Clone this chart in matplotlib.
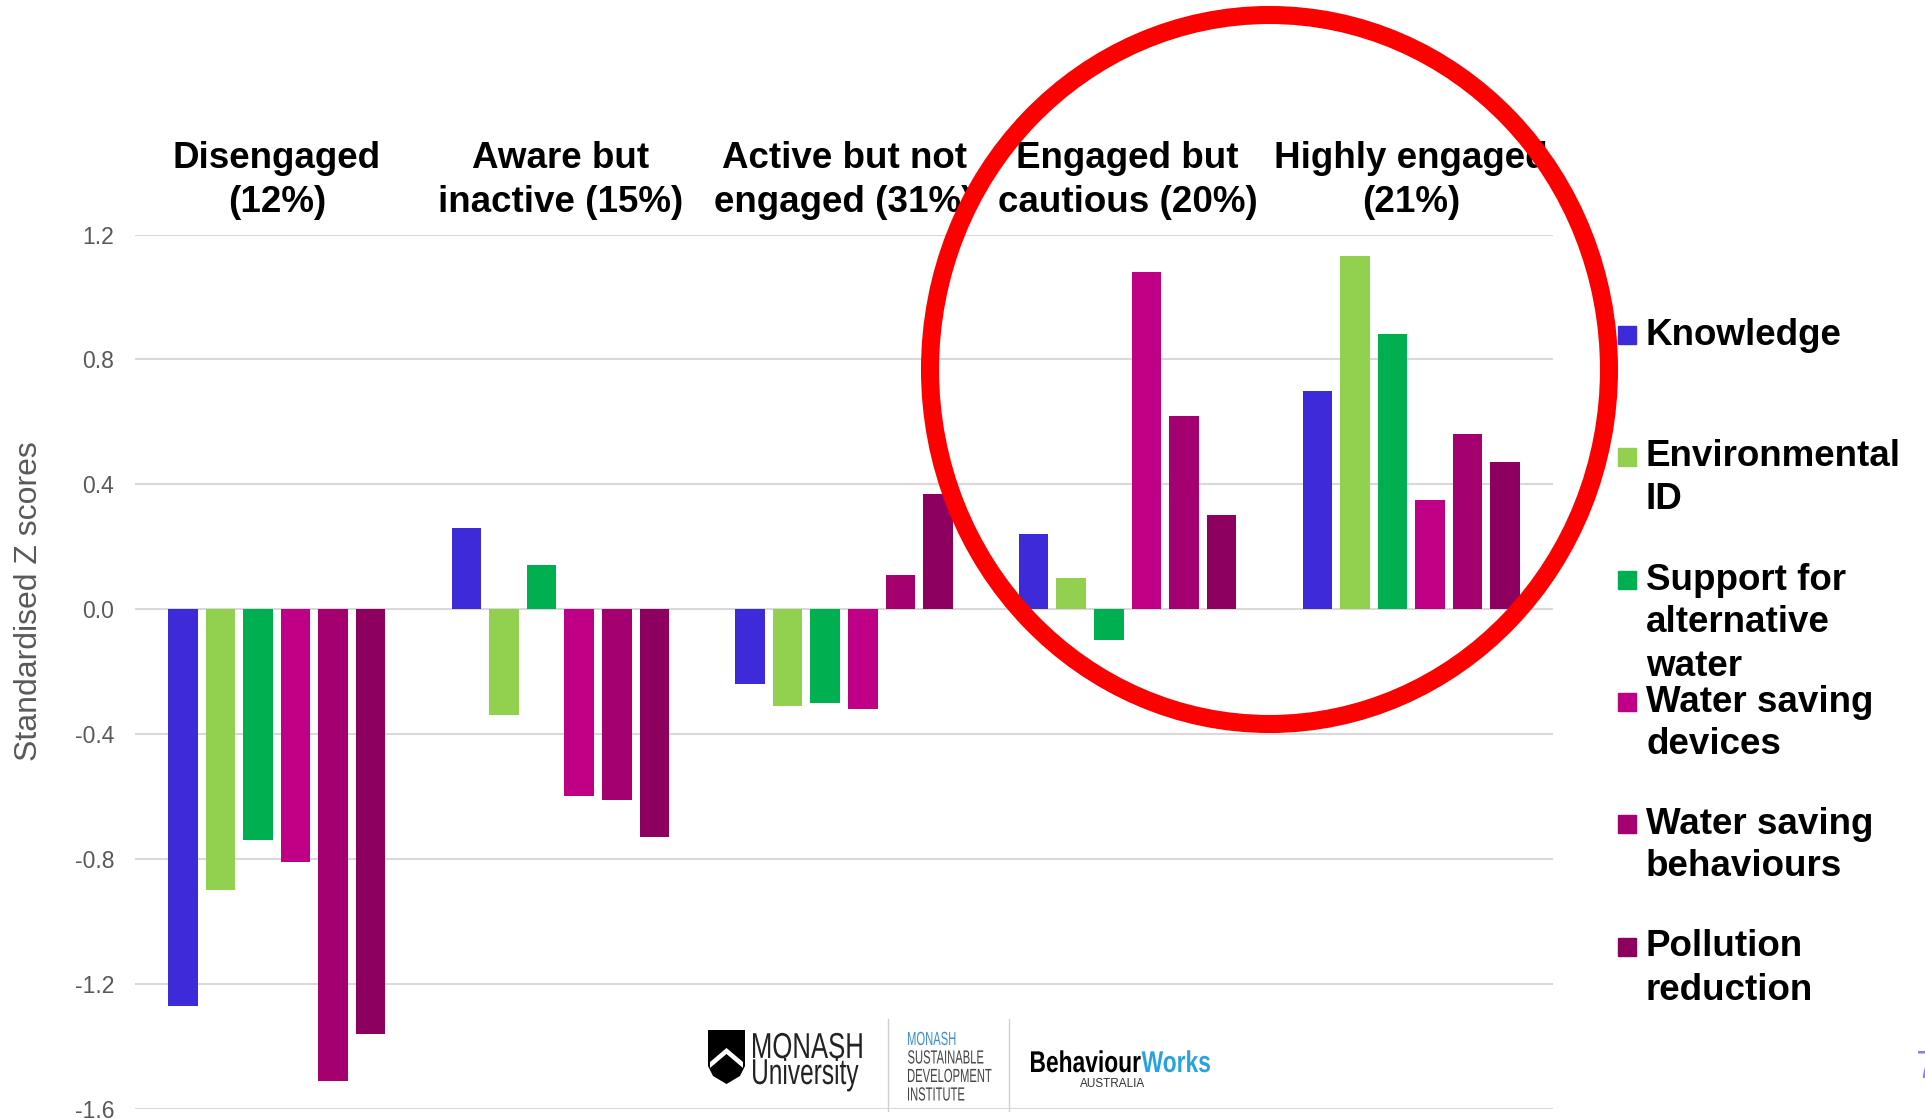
import numpy as np
import matplotlib
matplotlib.use("Agg")
import matplotlib.pyplot as plt
from matplotlib.patches import Ellipse, Rectangle, Polygon, PathPatch
from matplotlib.textpath import TextPath
from matplotlib.font_manager import FontProperties
from matplotlib.transforms import Affine2D, IdentityTransform

# segment headers (one per group)
groups = ["Disengaged\n(12%)", "Aware but\ninactive (15%)", "Active but not\nengaged (31%)",
          "Engaged but\ncautious (20%)", "Highly engaged\n(21%)"]

series = ["Knowledge", "Environmental\nID", "Support for\nalternative\nwater",
          "Water saving\ndevices", "Water saving\nbehaviours", "Pollution\nreduction"]
colors = ["#3D2BD9", "#92D050", "#00B050", "#BF0087", "#A5006F", "#8E0060"]

# z scores per series, in group order
knowledge = [-1.27, 0.26, -0.24, 0.24, 0.70]
env_id = [-0.90, -0.34, -0.31, 0.10, 1.13]
support_alt = [-0.74, 0.14, -0.30, -0.10, 0.88]
devices = [-0.81, -0.60, -0.32, 1.08, 0.35]
behaviours = [-1.51, -0.61, 0.11, 0.62, 0.56]
pollution = [-1.36, -0.73, 0.37, 0.30, 0.47]
values = [knowledge, env_id, support_alt, devices, behaviours, pollution]

yticks = [-1.6, -1.2, -0.8, -0.4, 0.0, 0.4, 0.8, 1.2]

W, H = 1925, 1119
fig = plt.figure(figsize=(W / 100, H / 100), dpi=100)
ax = fig.add_axes([135 / W, 1 - 1108.6 / H, (1553 - 135) / W, (1108.6 - 234.5) / H])


def path_text(s, x, y, em, color, sx=1.0, weight="normal", ha="left"):
    # condensed text drawn as a path; x, y = baseline position in pixels from top-left
    tp = TextPath((0, 0), s, size=em, prop=FontProperties(family="Liberation Sans", weight=weight))
    ext = tp.get_extents()
    w = ext.width * sx
    dx = {"left": 0, "center": -w / 2, "right": -w}[ha]
    tr = Affine2D().translate(-ext.x0, 0).scale(sx, 1).translate(x + dx, H - y)
    fig.add_artist(PathPatch(tp, transform=tr, facecolor=color, lw=0))
    return x + dx + w


x = np.arange(len(groups))
pitch, bw = 0.1325, 0.104
for j, (vals, c) in enumerate(zip(values, colors)):
    ax.bar(x + (j - 2.5) * pitch, vals, width=bw, color=c, zorder=3, linewidth=0)

ax.set_xlim(-0.5, len(groups) - 0.5)
ax.set_ylim(-1.6, 1.2)
ax.set_yticks(yticks)
ax.set_yticklabels([f"{t:.1f}" for t in yticks], fontsize=16.5, color="#595959",
                   family="Liberation Sans")
ax.set_xticks([])
ax.tick_params(axis="y", length=0, pad=15)
ax.grid(axis="y", color="#D9D9D9", linewidth=1.5, zorder=0)
for s in ax.spines.values():
    s.set_visible(False)

fig.text(29 / W, 1 - 601 / H, "Standardised Z scores", rotation=90, fontsize=23,
         color="#595959", family="Liberation Sans", ha="center", va="center")

# group headers above the plot
for i, g in enumerate(groups):
    for k, line in enumerate(g.split("\n")):
        ax.annotate(line, xy=(i, 0), xycoords=("data", "figure pixels"),
                    xytext=(0, H - 159 - 43 * k), textcoords=("offset pixels", "figure pixels"),
                    ha="center", va="center", fontsize=26.5, fontweight="bold",
                    family="Liberation Sans", color="black")

# legend on the right
entry_y = [335, 457, 580, 702, 824, 947]
for lab, c, yy in zip(series, colors, entry_y):
    fig.patches.append(Rectangle((1618 / W, 1 - (yy + 9) / H), 18 / W, 18 / H,
                                 transform=fig.transFigure, color=c))
    for k, line in enumerate(lab.split("\n")):
        fig.text(1646 / W, 1 - (yy + 43 * k) / H, line, ha="left", va="center",
                 fontsize=26.5, fontweight="bold", family="Liberation Sans")

# logos strip
shield = [(708, 1030), (745, 1030), (745, 1066), (740, 1076), (726.5, 1084), (713, 1076), (708, 1066)]
fig.add_artist(Polygon([(px, H - py) for px, py in shield], closed=True,
                       transform=IdentityTransform(), facecolor="black", lw=0))
chevron = [(710, 1062), (726.5, 1048), (743, 1062), (743, 1068), (726.5, 1054), (710, 1068)]
fig.add_artist(Polygon([(px, H - py) for px, py in chevron], closed=True,
                       transform=IdentityTransform(), facecolor="white", lw=0))
path_text("MONASH", 753, 1058, 36, "#222222", sx=0.715)
path_text("University", 753, 1084, 36, "#222222", sx=0.68)
for sx_ in (888, 1009):
    fig.add_artist(plt.Line2D([sx_ / W, sx_ / W], [1 - 1019 / H, 1 - 1111 / H],
                              color="#D0D0D0", linewidth=1, transform=fig.transFigure))
path_text("MONASH", 908, 1045, 19, "#3A8FD0", sx=0.59)
for k, line in enumerate(["SUSTAINABLE", "DEVELOPMENT", "INSTITUTE"]):
    path_text(line, 908, 1063.5 + 18.5 * k, 19, "#444444", sx=0.59)
xe = path_text("Behaviour", 1031, 1072, 30, "black", sx=0.76, weight="bold")
path_text("Works", xe + 1, 1072, 30, "#29A3DD", sx=0.76, weight="bold")
fig.text(1113 / W, 1 - 1084 / H, "AUSTRALIA", fontsize=8.5, family="Liberation Sans",
         color="#333333", ha="center", va="center")

# slide number, clipped at the edge
fig.text(1916 / W, 1 - 1068 / H, "7", fontsize=28, color="#8080FF", ha="left", va="center",
         family="Liberation Sans")

# red highlight circle over the top-right segments
fig.add_artist(Ellipse((1269.5 / W, 1 - 369.5 / H), 679 / W, 709 / H,
                       transform=fig.transFigure, fill=False, edgecolor="#FF0000",
                       linewidth=13, zorder=10))

fig.savefig("out.png", dpi=100)
